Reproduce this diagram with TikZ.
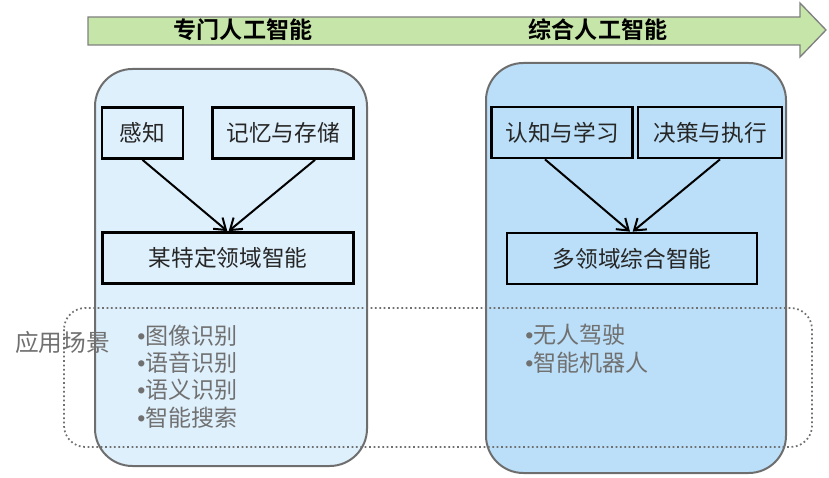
\documentclass[tikz,border=0pt]{standalone}
\usepackage{fontspec}
\setmainfont{Noto Sans CJK SC}[BoldFont={Noto Sans CJK SC Bold}]
\newfontfamily\latinfont{Liberation Sans}
\usetikzlibrary{arrows.meta}
\definecolor{bandgreen}{HTML}{C6E5A8}
\definecolor{paleblue}{HTML}{DFF0FD}
\definecolor{midblue}{HTML}{BBDFF8}
\definecolor{edgegray}{HTML}{6E6E6E}
\definecolor{listgray}{HTML}{707070}
\newcommand\usebullet{{\latinfont•}}
\tikzset{
  panel/.style={draw=edgegray,line width=1.5pt,rounded corners=28pt},
  box/.style={draw=black,line width=1.8pt,inner sep=0pt,minimum height=38.5pt,
    font=\fontsize{17}{20}\selectfont,text=black!85},
  stage/.style={font=\fontsize{17.3}{20}\selectfont\bfseries},
  usage/.style={inner sep=0pt,align=left,text=listgray,
    font=\fontsize{17.3}{20.6}\selectfont},
  flow/.style={-{Straight Barb[length=8pt,width=11pt]},line width=1.5pt}
}
\begin{document}
\begin{tikzpicture}[x=0.75pt,y=-0.75pt]
  \useasboundingbox (0,0) rectangle (829,478);
  \draw[fill=bandgreen,draw=gray,line width=1pt]
    (88,17) -- (800,17) -- (800,3) -- (826,30) -- (800,57) -- (800,45) -- (88,45) -- cycle;
  \node[stage] (narrow) at (243,30) {专门人工智能};
  \node[stage] (general) at (598,30) {综合人工智能};
  \draw[panel,fill=paleblue] (95,69) rectangle (367,466);
  \draw[panel,fill=midblue] (486,63) rectangle (786,473);
  \draw[draw=listgray,line width=1.3pt,dotted,rounded corners=16pt]
    (64,308) rectangle (812,447);
  \draw
    (142.5,133) node[box,minimum width=60.75pt] (sense){感知}
    (283,133) node[box,minimum width=105.75pt] (memory){记忆与存储}
    (228,258) node[box,minimum width=188pt] (special){某特定领域智能}
    (562,132.5) node[box,minimum width=106pt] (learn){认知与学习}
    (710,132.5) node[box,minimum width=108pt] (decide){决策与执行}
    (632,258.5) node[box,minimum width=187.5pt] (multi){多领域综合智能};
  \begin{scope}[flow]
    \draw (sense.south) to ([xshift=-0.5pt]special.north);
    \draw ([xshift=24pt]memory.south) to ([xshift=0.5pt]special.north);
    \draw ([xshift=-12.75pt]learn.south) to ([xshift=-1.5pt]multi.north);
    \draw ([xshift=7.5pt]decide.south) to ([xshift=0.5pt]multi.north);
  \end{scope}
  \node[usage,anchor=west,font=\fontsize{17.8}{20}\selectfont] (scene) at (15,342) {应用场景};
  \node[usage,anchor=west] (leftuse) at (137,376.5)
    {\usebullet{}图像识别\\\usebullet{}语音识别\\\usebullet{}语义识别\\\usebullet{}智能搜索};
  \node[usage,anchor=west] (rightuse) at (525,348.5)
    {\usebullet{}无人驾驶\\\usebullet{}智能机器人};
\end{tikzpicture}
\end{document}
